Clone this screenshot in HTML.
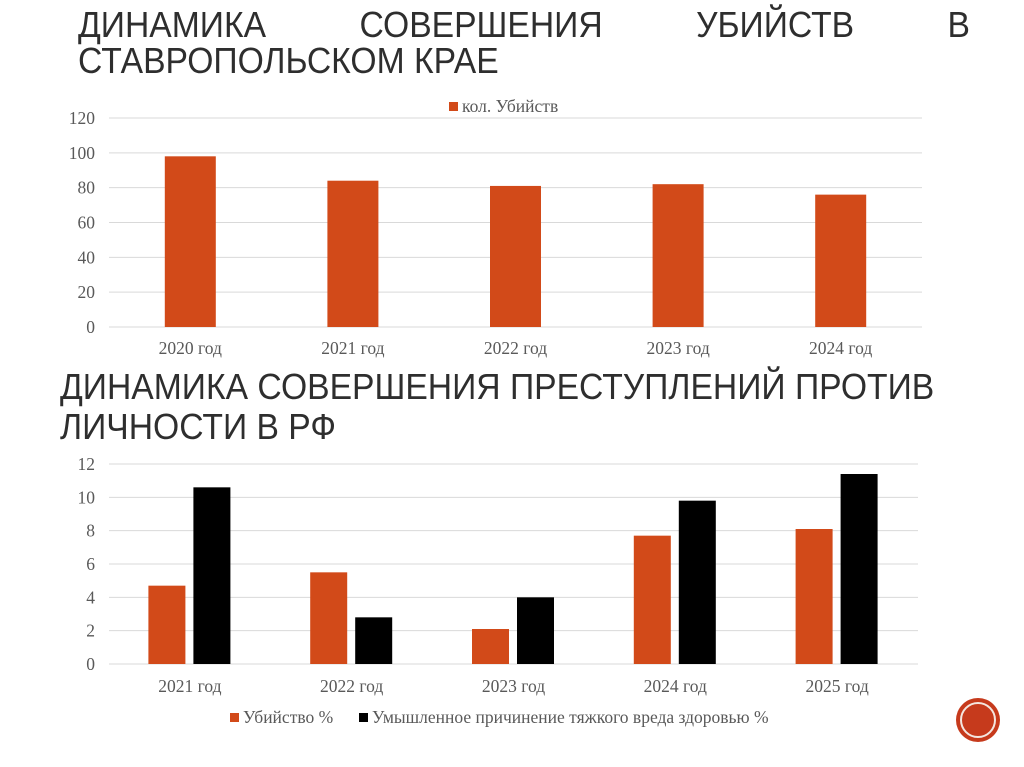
<!DOCTYPE html>
<html><head><meta charset="utf-8"><style>
html,body{margin:0;padding:0;background:#fff;}
body{width:1024px;height:767px;position:relative;overflow:hidden;}
.t{position:absolute;font-family:"Liberation Sans",sans-serif;color:#2e2e2e;font-size:36px;line-height:36px;white-space:nowrap;transform:scaleX(0.935);transform-origin:0 0;}
svg text{font-family:"Liberation Serif",serif;fill:#595959;}
</style></head><body>
<div class="t" style="left:78px;top:7px;width:954px;">
<div style="display:flex;justify-content:space-between"><span>ДИНАМИКА</span><span>СОВЕРШЕНИЯ</span><span>УБИЙСТВ</span><span>В</span></div>
<div>СТАВРОПОЛЬСКОМ КРАЕ</div></div>
<div class="t" style="left:60px;top:369px;">
<div>ДИНАМИКА СОВЕРШЕНИЯ ПРЕСТУПЛЕНИЙ ПРОТИВ</div>
<div style="margin-top:4px">ЛИЧНОСТИ В РФ</div></div>
<svg id="c1" width="1024" height="767" style="position:absolute;left:0;top:0"></svg>
<svg id="c2" width="1024" height="767" style="position:absolute;left:0;top:0"></svg>
<svg width="1024" height="767" style="position:absolute;left:0;top:0">
<circle cx="978" cy="720" r="22" fill="#c63a1c"/><circle cx="978" cy="720" r="17" fill="none" stroke="#f4e6df" stroke-width="2"/></svg>
<script>
const cats1=["2020 год","2021 год","2022 год","2023 год","2024 год"];
const vals1=[98,84,81,82,76];
const ticks1=[0,20,40,60,80,100,120];
const cats2=["2021 год","2022 год","2023 год","2024 год","2025 год"];
const murder2=[4.7,5.5,2.1,7.7,8.1];
const harm2=[10.6,2.8,4.0,9.8,11.4];
const ticks2=[0,2,4,6,8,10,12];
const NS="http://www.w3.org/2000/svg";
const FS=17.5;
function mk(p,tag,a,txt){const e=document.createElementNS(NS,tag);for(const k in a)e.setAttribute(k,a[k]);if(txt!=null)e.textContent=txt;p.appendChild(e);return e;}
(function(){
const s=document.getElementById('c1');
const x0=109,x1=922,y0=327,y1=118,max=120;
const y=v=>y0-(v/max)*(y0-y1);
const cw=(x1-x0)/cats1.length;
ticks1.forEach(t=>{
 const l=mk(s,'line',{x1:x0,x2:x1,y1:y(t),y2:y(t),stroke:'#d9d9d9','stroke-width':1});
 
 
 const tx=mk(s,'text',{x:95,y:y(t)+6,'text-anchor':'end','font-size':FS},t);
 
 
});
cats1.forEach((c,i)=>{
 const cx=x0+cw*(i+0.5);
 const r=mk(s,'rect',{x:cx-25.5,y:y(vals1[i]),width:51,height:y0-y(vals1[i]),fill:'#d24a19'});
 
 
 const tx=mk(s,'text',{x:cx,y:354,'text-anchor':'middle','font-size':FS},c);
 
 
});
const lg=mk(s,'g',{});


mk(lg,'rect',{x:449,y:102,width:9,height:9,fill:'#d24a19'});
mk(lg,'text',{x:462,y:112,'font-size':FS},'кол. Убийств');
})();
(function(){
const s=document.getElementById('c2');
const x0=109,x1=918,y0=664,y1=464,max=12;
const y=v=>y0-(v/max)*(y0-y1);
const cw=(x1-x0)/cats2.length;
ticks2.forEach(t=>{
 const l=mk(s,'line',{x1:x0,x2:x1,y1:y(t),y2:y(t),stroke:'#d9d9d9','stroke-width':1});
 
 
 const tx=mk(s,'text',{x:95,y:y(t)+6,'text-anchor':'end','font-size':FS},t);
 
 
});
cats2.forEach((c,i)=>{
 const cx=x0+cw*(i+0.5);
 const r1=mk(s,'rect',{x:cx-41.5,y:y(murder2[i]),width:37,height:y0-y(murder2[i]),fill:'#d24a19'});
 
 
 const r2=mk(s,'rect',{x:cx+3.5,y:y(harm2[i]),width:37,height:y0-y(harm2[i]),fill:'#000'});
 
 
 const tx=mk(s,'text',{x:cx,y:692,'text-anchor':'middle','font-size':FS},c);
 
 
});
const l1=mk(s,'g',{});


mk(l1,'rect',{x:230,y:713,width:9,height:9,fill:'#d24a19'});
mk(l1,'text',{x:243,y:723,'font-size':FS},'Убийство %');
const l2=mk(s,'g',{});


mk(l2,'rect',{x:359,y:713,width:9,height:9,fill:'#000'});
mk(l2,'text',{x:372,y:723,'font-size':FS},'Умышленное причинение тяжкого вреда здоровью %');
})();
</script>
</body></html>
